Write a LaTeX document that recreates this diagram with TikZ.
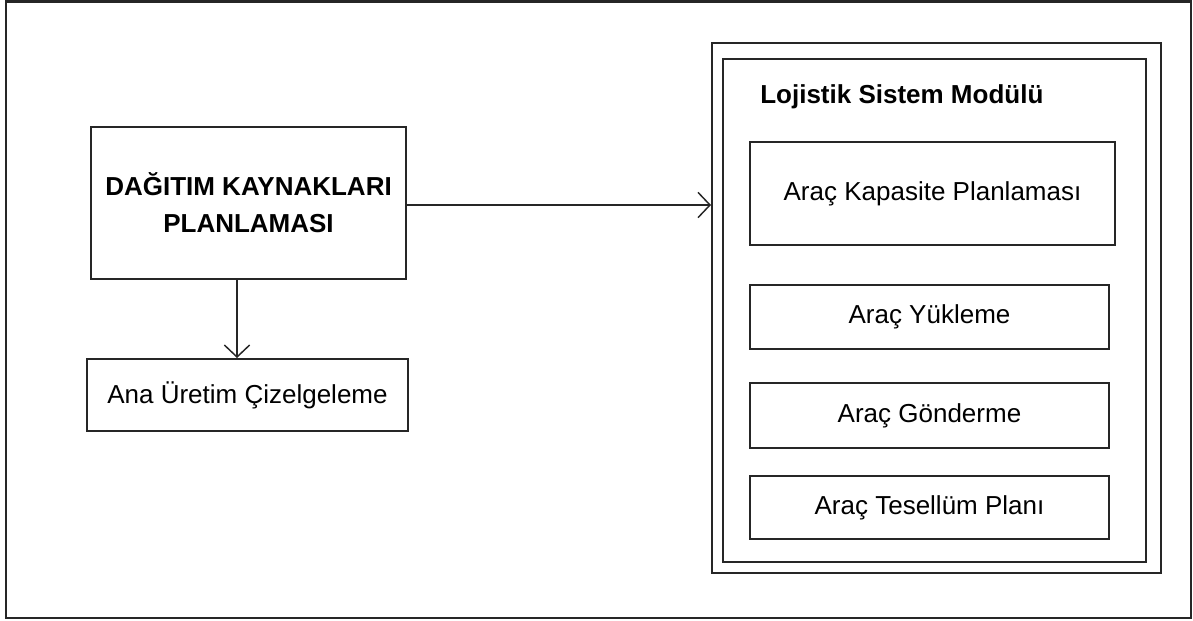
\documentclass[tikz,border=0pt]{standalone}
\usepackage{fontspec}
\setmainfont{Liberation Sans}
\usetikzlibrary{arrows.meta}
\definecolor{ink}{HTML}{262626}
\begin{document}
\begin{tikzpicture}[x=0.75pt,y=-0.75pt,
  every node/.style={font=\fontsize{19.5pt}{27.75pt}\selectfont, text=black},
  box/.style={draw=ink, line width=1.5pt, inner sep=0pt, align=center},
  link/.style={draw=ink, line width=1.1pt, -{Straight Barb[length=9pt,width=19pt]}}]
  \useasboundingbox (0,0) rectangle (1193,621);
  % page frame
  \draw[ink, line width=1.5pt] (6,1.5) rectangle (1191,618);

  % left side
  \node[box, minimum width=236.25pt, minimum height=114pt, font=\fontsize{19.5pt}{27.75pt}\selectfont\bfseries]
    (drp) at (248.5,203) {DAĞITIM KAYNAKLARI\\PLANLAMASI};
  \node[box, minimum width=240.75pt, minimum height=54pt] (ana) at (247.5,395) {Ana Üretim Çizelgeleme};

  % logistics module (double frame)
  \node[box, minimum width=336.75pt, minimum height=397.5pt] (modout) at (936.5,308) {};
  \node[box, minimum width=317.25pt, minimum height=377.25pt] (modin) at (934.5,310.5) {};
  \node[anchor=west, inner sep=0pt, font=\fontsize{19.5pt}{24pt}\selectfont\bfseries] (title) at (760,97) {Lojistik Sistem Modülü};

  \node[box, minimum width=273.75pt, minimum height=77.25pt] (kap) at (932.5,193.5) {Araç Kapasite Planlaması};
  \node[box, minimum width=269.25pt, minimum height=48pt] (yuk) at (929.5,317) {Araç Yükleme};
  \node[box, minimum width=269.25pt, minimum height=48.75pt] (gon) at (929.5,415.5) {Araç Gönderme};
  \node[box, minimum width=269.25pt, minimum height=47.25pt] (tes) at (929.5,507.5) {Araç Tesellüm Planı};

  % connectors
  \coordinate (downx) at (237,0);
  \draw[link] (drp.east |- 0,205) -- (modout.west |- 0,205);
  \draw[link] (drp.south -| downx) -- (ana.north -| downx);
\end{tikzpicture}
\end{document}
